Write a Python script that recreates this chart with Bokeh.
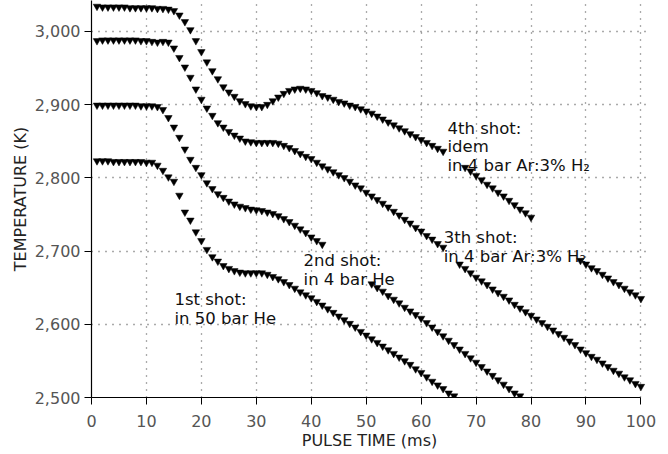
from bokeh.plotting import figure
from bokeh.models import ColumnDataSource, NumeralTickFormatter, FixedTicker, Range1d
from bokeh.core.properties import value
from bokeh.embed import file_html
from bokeh.resources import INLINE
import numpy as np

# Pulse time samples (ms)
pulse_ms = list(range(1, 101))

# Measured temperature (K) per sample; None where no reading is shown
shot1_T = [2823, 2823, 2823, 2822, 2822, 2822, 2822, 2822, 2822, 2821, 2821,
           2817, 2810, 2801, 2795, 2776, 2753, 2742, 2726, 2714, 2702, 2692,
           2686, 2680, 2676, 2673, 2671, 2670, 2670, 2670, 2670, 2668, 2665,
           2662, 2658, 2654, 2649, 2644, 2640, 2636, 2631, 2626, 2621, 2616,
           2611, 2606, 2601, 2596, 2590, 2585, 2580, 2575, 2570, 2565, 2560,
           2555, 2550, 2545, 2539, 2534, 2528, 2522, 2517, 2512, 2506, 2502]

shot2_T = [2899, 2899, 2899, 2899, 2899, 2899, 2899, 2899, 2898, 2898, 2898,
           2897, 2893, 2882, 2869, 2855, 2839, 2825, 2814, 2804, 2793, 2785,
           2778, 2773, 2768, 2764, 2761, 2759, 2757, 2756, 2755, 2753, 2751,
           2748, 2744, 2740, 2735, 2730, 2725, 2719, 2714, 2709,
           None, None, None, None, None, None, None, None,
           2655, 2650, 2645, 2639, 2634, 2629, 2623, 2618, 2613, 2608, 2602,
           2596, 2590, 2584, 2578, 2572, 2566, 2560, 2554, 2548, 2542, 2536,
           2530, 2524, 2518, 2512, 2506, 2502]

shot3_T = [2987, 2988, 2988, 2988, 2988, 2988, 2988, 2988, 2987, 2987,
           2986, 2985, 2986, 2985, 2977, 2964, 2951, 2937, 2921, 2907, 2895,
           2885, 2875, 2869, 2863, 2858, 2854, 2850, 2849, 2848, 2848, 2848,
           2848, 2847, 2844, 2841, 2837, 2833, 2829, 2826, 2821, 2816, 2812,
           2808, 2804, 2800, 2795, 2790, 2786, 2780, 2775, 2770, 2765, 2760,
           2754, 2749, 2743, 2738, 2732, 2727, 2721, 2716, 2710, 2705,
           None, None,
           2682, 2676, 2670, 2664, 2659, 2654, 2648, 2643, 2638, 2633, 2627,
           2622, 2617, 2612, 2607, 2602, 2597, 2592, 2587, 2582, 2577, 2572,
           2566, 2561, 2556, 2552, 2547, 2542, 2537, 2533, 2528, 2524, 2519,
           2515]

shot4_T = [3034, 3033, 3033, 3033, 3033, 3033, 3032, 3032, 3032, 3032,
           3032, 3031, 3031, 3030, 3028, 3022, 3013, 3002, 2987, 2972, 2958,
           2946, 2935, 2924, 2917, 2911, 2905, 2901, 2898, 2897, 2897, 2900,
           2905, 2910, 2915, 2919, 2921, 2922, 2921, 2919, 2916, 2912, 2910,
           2907, 2904, 2902, 2899, 2897, 2894, 2891, 2888, 2884, 2880, 2876,
           2872, 2868, 2864, 2860, 2856, 2852, 2848, 2844, 2840, 2836,
           None, None, None,
           2814, 2809, 2803, 2797, 2791, 2786, 2780, 2775, 2769, 2763, 2757,
           2752, 2746,
           None, None, None, None, None, None, None, None,
           2687, 2682, 2677, 2673, 2668, 2663, 2658, 2654, 2649, 2644, 2640,
           2635]

x_ticks = list(range(0, 101, 10))
y_ticks = list(range(2500, 3001, 100))

shot_notes = [
    ["4th shot:", "idem", "in 4 bar Ar:3% H\u2082"],
    ["3th shot:", "in 4 bar Ar:3% H\u2082"],
    ["2nd shot:", "in 4 bar He"],
    ["1st shot:", "in 50 bar He"],
]


def as_float(vals):
    return np.array([np.nan if v is None else v for v in vals], dtype=float)


p = figure(width=668, height=454, output_backend="svg", toolbar_location=None,
           x_range=Range1d(0, 101.2), y_range=Range1d(2500, 3042),
           min_border_left=91, min_border_right=21, min_border_top=0,
           min_border_bottom=57, background_fill_color="white",
           border_fill_color="white", outline_line_color=None)

# sparse dotted grid, drawn under the markers
p.xgrid.ticker = FixedTicker(ticks=x_ticks[1:])
p.ygrid.ticker = FixedTicker(ticks=y_ticks[1:])
for g in (p.xgrid[0], p.ygrid[0]):
    g.grid_line_color = "#444444"
    g.grid_line_dash = "1 6"
    g.grid_line_width = 1.3
    g.grid_line_alpha = 0.9

for series in (shot1_T, shot2_T, shot3_T, shot4_T):
    ys = as_float(series)
    src = ColumnDataSource(dict(t=pulse_ms[:len(ys)], T=ys))
    p.scatter("t", "T", source=src, marker="inverted_triangle", size=7.5,
              fill_color="black", line_color="black", line_width=0.5)

# annotation blocks: (left x, first-line baseline y) in data units, line step in K
note_anchor = [(64.8, 2867.5), (64.1, 2718.6), (38.6, 2687.0), (15.1, 2634.0)]
line_step = 25.5
for lines, (nx, ny) in zip(shot_notes, note_anchor):
    xs = [nx] * len(lines)
    ys = [ny - i * line_step for i in range(len(lines))]
    p.text(x=xs, y=ys, text=lines, text_font=value("DejaVu Sans"),
           text_font_size="16.5px", text_color="#111111",
           text_baseline="alphabetic", text_align="left")

for ax in (p.xaxis[0], p.yaxis[0]):
    ax.axis_line_color = "black"
    ax.axis_line_width = 1.2
    ax.major_tick_line_color = "black"
    ax.major_tick_out = 7
    ax.major_tick_in = 0
    ax.minor_tick_line_color = None
    ax.major_label_text_font = "DejaVu Sans"
    ax.major_label_text_font_size = "16px"
    ax.major_label_text_color = "#555555"
    ax.axis_label_text_font = "DejaVu Sans"
    ax.axis_label_text_font_size = "16px"
    ax.axis_label_text_font_style = "normal"
    ax.axis_label_text_color = "#222222"

p.xaxis.ticker = FixedTicker(ticks=x_ticks)
p.xaxis.bounds = (0, 100)
p.xaxis.axis_label = "PULSE TIME (ms)"
p.xaxis.major_label_standoff = 10
p.xaxis.axis_label_standoff = 1

p.yaxis.ticker = FixedTicker(ticks=y_ticks)
p.yaxis.formatter = NumeralTickFormatter(format="0,0")
p.yaxis.axis_label = "TEMPERATURE (K)"
p.yaxis.major_label_standoff = 4
p.yaxis.axis_label_standoff = 2

open("out.html", "w").write(file_html(p, INLINE))
